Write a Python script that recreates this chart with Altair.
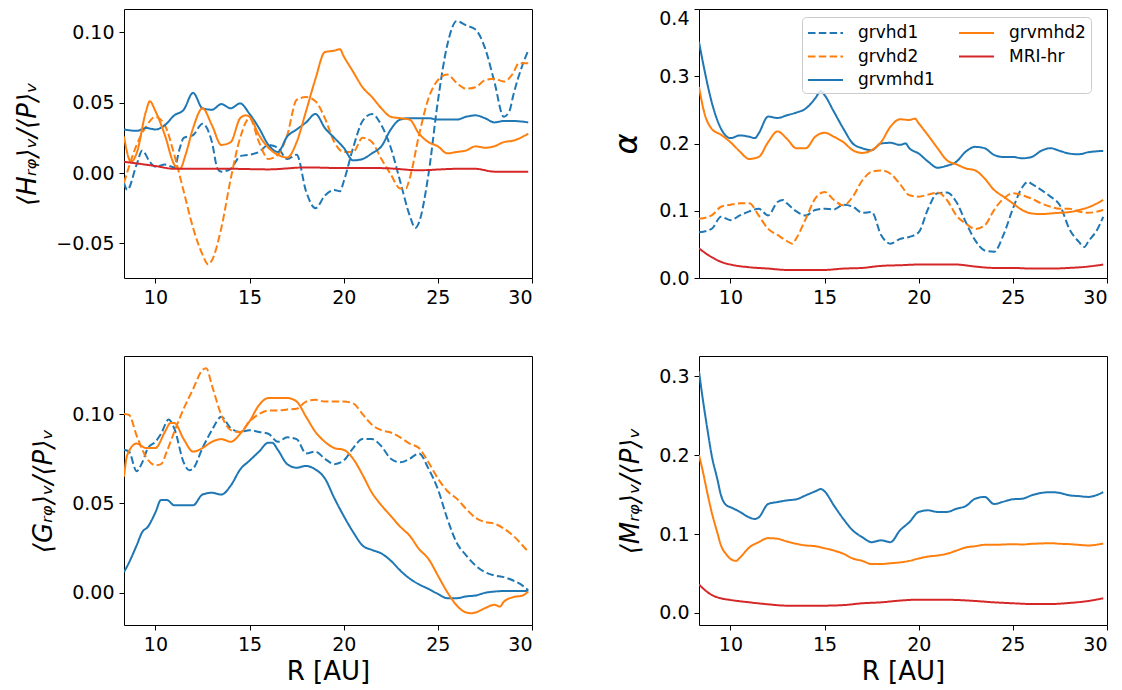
import altair as alt
import pandas as pd

# ---------------- data ----------------
SERIES = ["grvhd1", "grvhd2", "grvmhd1", "grvmhd2", "MRI-hr"]
LINE_COLORS = ["#1f77b4", "#ff7f0e", "#1f77b4", "#ff7f0e", "#d62728"]
LINE_DASHES = [[7.5, 3.3], [7.5, 3.3], [1, 0], [1, 0], [1, 0]]

X_TICKS = [10, 15, 20, 25, 30]

# <H_rphi>_v / <P>_v
H_GRVHD1 = [(8.33,-0.007),(8.5,-0.012),(9,0.006),(9.3,0.016),(9.7,0.008),(10,0.0045),(10.5,0.006),(11,0.004),(11.3,0.018),(11.5,0.025),(12,0.027),(12.5,0.035),(13,0.022),(13.3,0.003),(13.5,0.001),(14,0.003),(14.5,0.012),(15,0.013),(15.5,0.015),(16,0.020),(16.5,0.018),(17,0.010),(17.5,0.013),(18,-0.013),(18.5,-0.025),(19,-0.016),(19.5,-0.012),(19.8,-0.013),(20,-0.006),(20.5,0.018),(21,0.037),(21.5,0.042),(22,0.034),(22.5,0.018),(23,-0.006),(23.5,-0.030),(23.8,-0.039),(24,-0.035),(24.5,-0.001),(25,0.051),(25.5,0.091),(26,0.108),(26.5,0.105),(27,0.102),(27.5,0.089),(28,0.065),(28.5,0.040),(28.8,0.044),(29,0.055),(29.5,0.077),(29.8,0.087)]
H_GRVHD2 = [(8.33,-0.007),(9,0.020),(9.5,0.033),(10,0.040),(10.5,0.034),(11,0.013),(11.5,-0.013),(12,-0.039),(12.5,-0.058),(12.8,-0.065),(13,-0.062),(13.5,-0.039),(14,-0.004),(14.5,0.025),(15,0.039),(15.5,0.022),(16,0.010),(16.5,0.013),(17,0.027),(17.5,0.052),(18,0.054),(18.5,0.051),(19,0.039),(19.5,0.022),(20,0.015),(20.5,0.015),(21,0.025),(21.5,0.022),(22,0.010),(22.5,-0.001),(23,-0.011),(23.3,-0.011),(23.5,-0.004),(24,0.027),(24.5,0.053),(25,0.066),(25.5,0.070),(26,0.064),(26.5,0.060),(27,0.061),(27.5,0.066),(28,0.067),(28.5,0.065),(29,0.071),(29.3,0.078),(29.8,0.078)]
H_GRVMHD1 = [(8.33,0.031),(9,0.030),(9.5,0.032),(10,0.031),(10.5,0.034),(11,0.041),(11.5,0.045),(12,0.057),(12.5,0.046),(13,0.045),(13.5,0.049),(14,0.046),(14.5,0.0495),(15,0.042),(15.5,0.032),(16,0.020),(16.5,0.015),(17,0.026),(17.5,0.031),(18,0.036),(18.5,0.042),(19,0.032),(19.5,0.025),(20,0.018),(20.5,0.009),(21,0.010),(21.5,0.014),(22,0.019),(22.5,0.031),(23,0.038),(23.5,0.039),(24,0.039),(24.5,0.039),(25,0.038),(25.5,0.038),(26,0.038),(26.5,0.040),(27,0.041),(27.5,0.039),(28,0.036),(28.5,0.037),(29,0.037),(29.8,0.036)]
H_GRVMHD2 = [(8.33,0.026),(8.7,0.008),(9,0.014),(9.5,0.044),(9.7,0.051),(10,0.044),(10.5,0.027),(11,0.006),(11.3,0.003),(11.6,0.013),(12,0.032),(12.5,0.046),(13,0.034),(13.5,0.020),(14,0.022),(14.5,0.039),(14.8,0.041),(15,0.040),(15.5,0.027),(16,0.018),(16.5,0.013),(17,0.011),(17.5,0.022),(18,0.044),(18.5,0.067),(19,0.086),(19.5,0.087),(19.8,0.088),(20,0.083),(20.5,0.072),(21,0.061),(21.5,0.054),(22,0.046),(22.5,0.040),(23,0.039),(23.5,0.038),(24,0.028),(24.5,0.022),(25,0.019),(25.5,0.014),(26,0.015),(26.5,0.016),(27,0.019),(27.5,0.018),(28,0.019),(28.5,0.022),(29,0.023),(29.8,0.028)]
H_MRI = [(8.33,0.008),(10,0.005),(11,0.003),(12,0.003),(14,0.003),(16,0.0026),(18,0.004),(20,0.0035),(22,0.0035),(24,0.002),(26,0.003),(27,0.003),(28,0.001),(29.8,0.001)]

# alpha
A_GRVHD1 = [(8.33,0.068),(9,0.073),(9.5,0.091),(10,0.086),(10.5,0.093),(11,0.099),(11.5,0.103),(12,0.093),(12.5,0.113),(12.8,0.116),(13,0.111),(13.5,0.099),(14,0.093),(14.5,0.101),(15,0.103),(15.5,0.102),(16,0.109),(16.5,0.106),(17,0.097),(17.5,0.098),(18,0.064),(18.5,0.051),(19,0.058),(19.5,0.061),(20,0.068),(20.5,0.103),(21,0.126),(21.5,0.127),(22,0.113),(22.5,0.083),(23,0.056),(23.5,0.041),(24,0.039),(24.5,0.064),(25,0.103),(25.5,0.135),(25.8,0.143),(26,0.140),(26.5,0.131),(27,0.121),(27.5,0.108),(28,0.073),(28.5,0.054),(28.8,0.046),(29,0.054),(29.5,0.073),(29.8,0.091)]
A_GRVHD2 = [(8.33,0.088),(9,0.093),(9.5,0.106),(10,0.109),(10.5,0.111),(11,0.111),(11.5,0.093),(12,0.073),(12.5,0.064),(13,0.055),(13.3,0.051),(13.5,0.059),(14,0.088),(14.5,0.118),(15,0.128),(15.5,0.116),(16,0.108),(16.5,0.121),(17,0.145),(17.5,0.158),(18,0.160),(18.5,0.155),(19,0.140),(19.5,0.123),(20,0.121),(20.5,0.124),(21,0.127),(21.5,0.116),(22,0.093),(22.5,0.081),(23,0.073),(23.5,0.078),(24,0.101),(24.5,0.118),(25,0.126),(25.5,0.123),(26,0.118),(26.5,0.111),(27,0.106),(27.5,0.103),(28,0.103),(28.5,0.099),(29,0.097),(29.8,0.101)]
A_GRVMHD1 = [(8.33,0.351),(8.6,0.312),(9,0.262),(9.5,0.222),(10,0.208),(10.5,0.212),(11,0.210),(11.3,0.208),(11.5,0.215),(12,0.240),(12.5,0.238),(13,0.242),(13.5,0.246),(14,0.252),(14.5,0.267),(14.8,0.278),(15,0.272),(15.5,0.247),(16,0.222),(16.5,0.200),(17,0.193),(17.5,0.190),(18,0.200),(18.5,0.201),(19,0.198),(19.3,0.200),(19.5,0.193),(20,0.185),(20.5,0.173),(21,0.164),(21.5,0.167),(22,0.173),(22.5,0.188),(23,0.195),(23.5,0.193),(24,0.183),(24.5,0.180),(25,0.180),(25.5,0.178),(26,0.180),(26.5,0.189),(27,0.193),(27.5,0.189),(28,0.185),(28.5,0.184),(29,0.187),(29.8,0.189)]
A_GRVMHD2 = [(8.33,0.284),(8.6,0.247),(9,0.222),(9.5,0.213),(10,0.202),(10.5,0.188),(11,0.177),(11.5,0.180),(12,0.202),(12.5,0.218),(13,0.207),(13.5,0.193),(14,0.193),(14.5,0.210),(15,0.216),(15.5,0.210),(16,0.202),(16.5,0.190),(17,0.186),(17.5,0.190),(18,0.202),(18.5,0.225),(19,0.236),(19.5,0.235),(19.8,0.237),(20,0.230),(20.5,0.212),(21,0.193),(21.5,0.175),(22,0.169),(22.5,0.163),(23,0.160),(23.5,0.148),(24,0.131),(24.5,0.121),(25,0.111),(25.5,0.101),(26,0.096),(26.5,0.095),(27,0.096),(27.5,0.097),(28,0.098),(28.5,0.101),(29,0.105),(29.8,0.116)]
A_MRI = [(8.33,0.044),(9,0.031),(9.5,0.024),(10,0.020),(11,0.016),(12,0.014),(13,0.012),(14,0.012),(15,0.012),(16,0.014),(17,0.015),(18,0.018),(19,0.019),(20,0.020),(21,0.020),(22,0.020),(23,0.017),(24,0.015),(25,0.015),(26,0.014),(27,0.014),(28,0.015),(29,0.017),(29.8,0.020)]

# <G_rphi>_v / <P>_v
G_GRVHD1 = [(8.33,0.080),(8.6,0.079),(9,0.068),(9.3,0.073),(9.6,0.081),(10,0.0845),(10.3,0.089),(10.7,0.097),(11,0.092),(11.5,0.073),(11.8,0.0686),(12,0.0695),(12.5,0.081),(13,0.091),(13.5,0.0985),(14,0.092),(14.5,0.090),(15,0.091),(15.5,0.090),(16,0.089),(16.5,0.0845),(17,0.087),(17.5,0.086),(18,0.078),(18.5,0.079),(19,0.075),(19.5,0.072),(20,0.074),(20.5,0.081),(21,0.086),(21.5,0.086),(22,0.082),(22.5,0.075),(23,0.073),(23.5,0.075),(24,0.078),(24.5,0.0695),(25,0.058),(25.5,0.0415),(26,0.028),(26.5,0.021),(27,0.0153),(27.5,0.0116),(28,0.0097),(28.5,0.0088),(29,0.0069),(29.5,0.004),(29.8,0.0013)]
G_GRVHD2 = [(8.33,0.100),(8.6,0.0995),(9,0.088),(9.5,0.076),(10,0.0714),(10.3,0.072),(10.6,0.079),(11,0.090),(11.5,0.103),(12,0.114),(12.5,0.1247),(12.7,0.1256),(13,0.116),(13.5,0.0995),(14,0.091),(14.5,0.090),(15,0.096),(15.5,0.100),(16,0.102),(16.5,0.102),(17,0.1026),(17.5,0.103),(18,0.107),(18.5,0.108),(19,0.107),(19.5,0.107),(20,0.107),(20.5,0.106),(21,0.100),(21.5,0.094),(22,0.091),(22.5,0.0897),(23,0.087),(23.5,0.0835),(24,0.081),(24.5,0.073),(25,0.064),(25.5,0.057),(26,0.0527),(26.5,0.047),(27,0.042),(27.5,0.0396),(28,0.0387),(28.5,0.036),(29,0.032),(29.5,0.0265),(29.8,0.023)]
G_GRVMHD1 = [(8.33,0.0116),(8.6,0.017),(9,0.0265),(9.3,0.034),(9.6,0.037),(10,0.045),(10.3,0.052),(10.6,0.052),(11,0.049),(11.5,0.049),(12,0.049),(12.5,0.055),(13,0.056),(13.5,0.055),(14,0.060),(14.5,0.069),(15,0.074),(15.5,0.079),(16,0.084),(16.2,0.084),(16.5,0.080),(17,0.072),(17.5,0.070),(18,0.071),(18.5,0.069),(19,0.064),(19.5,0.053),(20,0.043),(20.5,0.034),(21,0.0265),(21.5,0.024),(22,0.022),(22.5,0.018),(23,0.0125),(23.5,0.008),(24,0.0047),(24.5,0.0022),(25,-0.0006),(25.5,-0.003),(26,-0.003),(26.5,-0.002),(27,-0.0015),(27.5,0.0),(28,0.0007),(28.5,0.001),(29,0.001),(29.8,0.001)]
G_GRVMHD2 = [(8.33,0.065),(8.5,0.077),(9,0.0835),(9.5,0.081),(10,0.081),(10.5,0.090),(10.8,0.095),(11,0.095),(11.5,0.086),(12,0.079),(12.5,0.081),(13,0.0845),(13.5,0.086),(14,0.0845),(14.5,0.089),(15,0.096),(15.5,0.105),(16,0.109),(16.5,0.109),(17,0.109),(17.5,0.107),(18,0.0985),(18.5,0.090),(19,0.0845),(19.5,0.081),(20,0.080),(20.5,0.075),(21,0.066),(21.5,0.056),(22,0.049),(22.5,0.043),(23,0.037),(23.5,0.032),(24,0.0245),(24.5,0.019),(25,0.0097),(25.5,0.0004),(26,-0.007),(26.5,-0.011),(26.8,-0.0114),(27,-0.011),(27.5,-0.0086),(28,-0.0067),(28.3,-0.0077),(28.5,-0.005),(29,-0.0024),(29.5,-0.0015),(29.8,0.0007)]

# <M_rphi>_v / <P>_v
M_GRVMHD1 = [(8.33,0.306),(8.5,0.276),(8.8,0.229),(9,0.200),(9.3,0.170),(9.5,0.149),(9.8,0.136),(10,0.134),(10.5,0.128),(11,0.121),(11.3,0.119),(11.5,0.121),(12,0.138),(12.5,0.1405),(13,0.1426),(13.5,0.144),(14,0.149),(14.5,0.154),(14.8,0.157),(15,0.154),(15.5,0.136),(16,0.119),(16.5,0.1045),(17,0.096),(17.5,0.0897),(18,0.092),(18.5,0.0897),(19,0.1045),(19.5,0.115),(20,0.128),(20.5,0.130),(21,0.128),(21.5,0.128),(22,0.132),(22.5,0.1354),(23,0.1447),(23.5,0.147),(24,0.138),(24.5,0.141),(25,0.144),(25.5,0.1447),(26,0.149),(26.5,0.152),(27,0.153),(27.5,0.152),(28,0.149),(28.5,0.148),(29,0.147),(29.8,0.153)]
M_GRVMHD2 = [(8.33,0.200),(8.5,0.183),(8.8,0.149),(9,0.128),(9.3,0.102),(9.5,0.0855),(9.8,0.0736),(10,0.0686),(10.3,0.066),(10.5,0.070),(11,0.083),(11.5,0.0897),(12,0.0948),(12.5,0.094),(13,0.0906),(13.5,0.0876),(14,0.0855),(14.5,0.0846),(15,0.082),(15.5,0.079),(16,0.075),(16.5,0.069),(17,0.066),(17.5,0.062),(18,0.062),(18.5,0.063),(19,0.064),(19.5,0.066),(20,0.069),(20.5,0.0715),(21,0.0728),(21.5,0.075),(22,0.079),(22.5,0.083),(23,0.0846),(23.5,0.0863),(24,0.0863),(24.5,0.0867),(25,0.0872),(25.5,0.0867),(26,0.0876),(26.5,0.088),(27,0.0884),(27.5,0.0876),(28,0.0872),(28.5,0.0863),(29,0.0855),(29.8,0.088)]
M_MRI = [(8.33,0.036),(9,0.0229),(9.5,0.0186),(10,0.0165),(11,0.0135),(12,0.011),(13,0.0093),(14,0.0093),(15,0.0093),(16,0.010),(17,0.0123),(18,0.0135),(19,0.0157),(20,0.0169),(21,0.0169),(22,0.0165),(23,0.0152),(24,0.0135),(25,0.0123),(26,0.0114),(27,0.0114),(28,0.0127),(29,0.0152),(29.8,0.0186)]


def table(series):
    rows = []
    for name, pts in series:
        for r, v in pts:
            rows.append({"R": r, "val": v, "series": name})
    return pd.DataFrame(rows)


W, H = 408, 269
FONT = "DejaVu Sans"

legend_spec = alt.Legend(
    orient="none", legendX=103, legendY=8, columns=2, title=None,
    symbolType="M-1,0H2.5", symbolSize=400, symbolStrokeWidth=2,
    labelFontSize=17, labelFont=FONT, labelColor="black", labelOffset=29,
    columnPadding=20, rowPadding=4.5, padding=5,
    fillColor="rgba(255,255,255,0.8)", strokeColor="#cccccc", cornerRadius=4,
)


def panel(df, ydom, yvals, yfmt, ytitle, ytitle_size, xtitle, legend=False, ybaseline=None):
    yaxis_kw = dict(values=yvals, format=yfmt, title=ytitle, titleFontSize=ytitle_size,
                    titleFontStyle="italic", titlePadding=15)
    if ybaseline is not None:
        yaxis_kw["labelBaseline"] = ybaseline
    xaxis = alt.Axis(values=X_TICKS, format="d", title=xtitle, titleFontSize=26,
                     titlePadding=4) if xtitle else alt.Axis(values=X_TICKS, format="d", title=None)
    lg = legend_spec if legend else None
    return alt.Chart(df).mark_line(strokeWidth=2, interpolate="monotone", clip=True).encode(
        x=alt.X("R:Q", scale=alt.Scale(domain=[8.33, 30], nice=False, zero=False), axis=xaxis),
        y=alt.Y("val:Q", scale=alt.Scale(domain=ydom, nice=False, zero=False), axis=alt.Axis(**yaxis_kw)),
        color=alt.Color("series:N", scale=alt.Scale(domain=SERIES, range=LINE_COLORS), legend=lg),
        strokeDash=alt.StrokeDash("series:N", scale=alt.Scale(domain=SERIES, range=LINE_DASHES), legend=lg),
    ).properties(width=W, height=H)


tl = panel(table([("grvhd1", H_GRVHD1), ("grvhd2", H_GRVHD2), ("grvmhd1", H_GRVMHD1),
                  ("grvmhd2", H_GRVMHD2), ("MRI-hr", H_MRI)]),
           [-0.0746, 0.1166], [-0.05, 0.0, 0.05, 0.10], ".2f", "⟨Hᵣᵩ⟩ᵥ/⟨P⟩ᵥ", 26, None)
tr = panel(table([("grvhd1", A_GRVHD1), ("grvhd2", A_GRVHD2), ("grvmhd1", A_GRVMHD1),
                  ("grvmhd2", A_GRVMHD2), ("MRI-hr", A_MRI)]),
           [0, 0.4], [0.0, 0.1, 0.2, 0.3, 0.4], ".1f", "α", 32, None, legend=True,
           ybaseline={"condition": {"test": "datum.value > 0.39", "value": "top"}, "value": "middle"})
bl = panel(table([("grvhd1", G_GRVHD1), ("grvhd2", G_GRVHD2), ("grvmhd1", G_GRVMHD1),
                  ("grvmhd2", G_GRVMHD2)]),
           [-0.018, 0.1325], [0.0, 0.05, 0.10], ".2f", "⟨Gᵣᵩ⟩ᵥ/⟨P⟩ᵥ", 26, "R [AU]")
br = panel(table([("grvmhd1", M_GRVMHD1), ("grvmhd2", M_GRVMHD2), ("MRI-hr", M_MRI)]),
           [-0.0152, 0.3254], [0.0, 0.1, 0.2, 0.3], ".1f", "⟨Mᵣᵩ⟩ᵥ/⟨P⟩ᵥ", 26, "R [AU]")

chart = alt.concat(
    tl, tr, bl, br, columns=2, spacing={"row": 78, "column": 167}, bounds="flush"
).resolve_scale(
    color="independent", strokeDash="independent", x="independent", y="independent"
).resolve_legend(
    color="independent", strokeDash="independent"
).properties(
    padding={"left": 6, "top": 0, "right": 0, "bottom": 0}
).configure(
    font=FONT
).configure_view(
    stroke="black", strokeWidth=1
).configure_axis(
    grid=False, domain=False, tickColor="black", tickSize=5, tickWidth=1,
    labelFont=FONT, labelFontSize=19, labelColor="black", labelPadding=5,
    titleFont=FONT, titleColor="black", titleFontWeight="normal",
)

chart.save("out.html", embed_options={"renderer": "svg", "actions": False})
